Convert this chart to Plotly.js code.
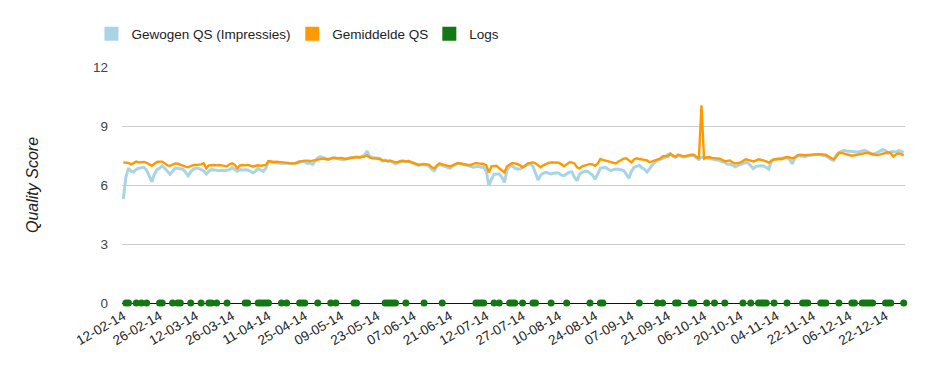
<!DOCTYPE html>
<html><head><meta charset="utf-8">
<script src="https://cdn.plot.ly/plotly-3.0.1.min.js"></script>
<style>html,body{margin:0;padding:0;background:#fff;} #chart{width:945px;height:374px;}</style>
</head><body><div id="chart"></div>
<script>
const categories = [
"12-02-14","13-02-14","14-02-14","15-02-14","16-02-14","17-02-14","18-02-14","19-02-14","20-02-14","21-02-14","22-02-14","23-02-14","24-02-14","25-02-14",
"26-02-14","27-02-14","28-02-14","01-03-14","02-03-14","03-03-14","04-03-14","05-03-14","06-03-14","07-03-14","08-03-14","09-03-14","10-03-14","11-03-14",
"12-03-14","13-03-14","14-03-14","15-03-14","16-03-14","17-03-14","18-03-14","19-03-14","20-03-14","21-03-14","22-03-14","23-03-14","24-03-14","25-03-14",
"26-03-14","27-03-14","28-03-14","30-03-14","31-03-14","01-04-14","02-04-14","03-04-14","04-04-14","06-04-14","07-04-14","08-04-14","09-04-14","10-04-14",
"11-04-14","12-04-14","13-04-14","14-04-14","15-04-14","16-04-14","17-04-14","18-04-14","19-04-14","20-04-14","21-04-14","22-04-14","23-04-14","24-04-14",
"25-04-14","26-04-14","27-04-14","28-04-14","29-04-14","30-04-14","01-05-14","02-05-14","03-05-14","04-05-14","05-05-14","06-05-14","07-05-14","08-05-14",
"09-05-14","10-05-14","11-05-14","12-05-14","13-05-14","14-05-14","15-05-14","16-05-14","17-05-14","18-05-14","19-05-14","20-05-14","21-05-14","22-05-14",
"23-05-14","24-05-14","25-05-14","26-05-14","27-05-14","28-05-14","29-05-14","30-05-14","31-05-14","02-06-14","03-06-14","04-06-14","05-06-14","06-06-14",
"07-06-14","08-06-14","09-06-14","10-06-14","11-06-14","12-06-14","13-06-14","14-06-14","15-06-14","16-06-14","17-06-14","18-06-14","19-06-14","20-06-14",
"21-06-14","23-06-14","25-06-14","27-06-14","29-06-14","01-07-14","02-07-14","04-07-14","05-07-14","06-07-14","07-07-14","08-07-14","10-07-14","11-07-14",
"12-07-14","13-07-14","14-07-14","15-07-14","16-07-14","17-07-14","18-07-14","19-07-14","21-07-14","22-07-14","23-07-14","24-07-14","25-07-14","26-07-14",
"27-07-14","28-07-14","29-07-14","30-07-14","31-07-14","01-08-14","02-08-14","03-08-14","04-08-14","05-08-14","06-08-14","07-08-14","08-08-14","09-08-14",
"10-08-14","11-08-14","12-08-14","13-08-14","14-08-14","15-08-14","16-08-14","17-08-14","18-08-14","19-08-14","20-08-14","21-08-14","22-08-14","23-08-14",
"24-08-14","25-08-14","26-08-14","27-08-14","28-08-14","29-08-14","30-08-14","31-08-14","01-09-14","02-09-14","03-09-14","04-09-14","05-09-14","06-09-14",
"07-09-14","08-09-14","09-09-14","10-09-14","11-09-14","12-09-14","13-09-14","14-09-14","15-09-14","16-09-14","17-09-14","18-09-14","19-09-14","20-09-14",
"21-09-14","22-09-14","23-09-14","24-09-14","25-09-14","26-09-14","27-09-14","29-09-14","30-09-14","01-10-14","02-10-14","03-10-14","04-10-14","05-10-14",
"06-10-14","07-10-14","08-10-14","09-10-14","10-10-14","11-10-14","12-10-14","13-10-14","14-10-14","15-10-14","16-10-14","17-10-14","18-10-14","19-10-14",
"20-10-14","21-10-14","22-10-14","23-10-14","24-10-14","25-10-14","27-10-14","28-10-14","29-10-14","30-10-14","31-10-14","01-11-14","02-11-14","03-11-14",
"04-11-14","05-11-14","06-11-14","07-11-14","10-11-14","11-11-14","12-11-14","13-11-14","14-11-14","17-11-14","18-11-14","19-11-14","20-11-14","21-11-14",
"22-11-14","23-11-14","24-11-14","25-11-14","26-11-14","27-11-14","28-11-14","29-11-14","30-11-14","01-12-14","02-12-14","03-12-14","04-12-14","05-12-14",
"06-12-14","07-12-14","08-12-14","09-12-14","10-12-14","11-12-14","12-12-14","15-12-14","16-12-14","17-12-14","18-12-14","19-12-14","20-12-14","21-12-14",
"22-12-14","23-12-14","24-12-14","26-12-14","27-12-14","28-12-14","29-12-14","30-12-14"
];

const weightedQS = [
5.29,6.40,6.85,6.70,6.66,6.80,6.85,6.88,6.90,6.75,
6.45,6.17,6.55,6.78,6.85,6.98,6.85,6.70,6.55,6.70,
6.85,6.85,6.82,6.80,6.65,6.47,6.68,6.80,6.85,6.85,
6.78,6.72,6.56,6.70,6.78,6.78,6.75,6.73,6.75,6.73,
6.75,6.78,6.88,6.80,6.70,6.78,6.76,6.78,6.76,6.70,
6.62,6.70,6.85,6.75,6.70,6.85,7.19,7.17,7.15,7.15,
7.12,7.10,7.12,7.10,7.08,7.08,7.10,7.15,7.19,7.20,
7.17,7.10,7.12,7.05,7.25,7.38,7.44,7.40,7.34,7.30,
7.35,7.38,7.36,7.34,7.30,7.28,7.32,7.38,7.40,7.40,
7.42,7.40,7.44,7.50,7.73,7.45,7.40,7.38,7.38,7.35,
7.22,7.26,7.20,7.22,7.15,7.07,7.12,7.20,7.22,7.18,
7.20,7.15,7.10,7.05,7.00,7.05,7.05,7.02,6.95,6.80,
6.73,6.95,7.05,7.00,6.95,6.88,6.85,6.95,7.02,7.10,
7.08,7.05,7.02,7.00,6.95,6.90,6.92,6.95,6.90,6.92,
6.70,5.97,6.30,6.55,6.56,6.56,6.40,6.13,6.75,6.95,
6.98,6.85,6.81,6.81,6.90,6.98,7.05,7.07,6.95,6.60,
6.25,6.50,6.60,6.64,6.60,6.56,6.60,6.62,6.60,6.50,
6.47,6.56,6.65,6.67,6.40,6.22,6.56,6.64,6.70,6.70,
6.60,6.50,6.28,6.60,6.85,6.88,6.90,6.80,6.73,6.78,
6.81,6.80,6.75,6.73,6.55,6.34,6.70,6.90,6.95,7.00,
6.88,6.80,6.66,6.85,7.00,7.15,7.25,7.30,7.34,7.40,
7.55,7.60,7.45,7.42,7.50,7.45,7.42,7.45,7.48,7.50,
7.50,7.40,7.30,7.42,7.40,7.35,7.36,7.34,7.32,7.30,
7.25,7.18,7.15,7.05,7.05,7.00,6.92,6.98,7.03,7.10,
7.14,7.12,7.00,6.83,6.95,6.97,6.98,6.97,6.90,6.80,
7.25,7.30,7.32,7.35,7.36,7.38,7.40,7.30,7.08,7.35,
7.50,7.48,7.46,7.45,7.48,7.50,7.52,7.54,7.56,7.53,
7.50,7.48,7.40,7.30,7.25,7.50,7.64,7.70,7.76,7.73,
7.71,7.70,7.69,7.68,7.70,7.74,7.76,7.70,7.62,7.56,
7.60,7.68,7.72,7.80,7.75,7.62,7.68,7.70,7.68,7.75,
7.72,7.65
];

const averageQS = [
7.15,7.15,7.12,7.05,7.10,7.19,7.15,7.15,7.17,7.12,
7.05,6.98,7.08,7.17,7.19,7.19,7.10,7.00,6.98,7.02,
7.10,7.08,7.02,6.98,6.93,6.90,6.98,7.02,7.02,7.02,
7.05,7.10,6.85,7.00,7.02,7.02,7.00,7.02,7.00,6.98,
6.95,7.05,7.10,7.02,6.85,7.00,7.02,7.00,7.02,6.98,
6.93,6.98,7.00,6.98,7.00,7.02,7.22,7.20,7.17,7.19,
7.17,7.15,7.15,7.12,7.10,7.10,7.10,7.12,7.19,7.22,
7.24,7.24,7.22,7.24,7.26,7.30,7.32,7.34,7.32,7.30,
7.34,7.38,7.38,7.36,7.38,7.34,7.32,7.36,7.38,7.40,
7.42,7.40,7.42,7.44,7.50,7.40,7.36,7.36,7.34,7.32,
7.24,7.24,7.22,7.24,7.20,7.15,7.17,7.22,7.22,7.20,
7.22,7.17,7.15,7.08,7.02,7.05,7.07,7.05,7.02,6.90,
6.85,7.00,7.10,7.05,7.02,6.98,6.95,7.00,7.05,7.12,
7.10,7.07,7.03,7.02,7.02,7.08,7.12,7.10,7.10,7.07,
7.00,6.64,6.95,6.98,6.98,6.85,6.72,6.64,6.95,7.05,
7.12,7.10,7.07,7.00,6.90,6.98,7.10,7.12,7.15,7.10,
7.00,6.90,7.00,7.07,7.12,7.15,7.15,7.15,7.13,7.05,
6.95,7.05,7.15,7.15,7.10,6.90,6.85,6.95,6.98,7.02,
7.07,7.05,6.98,7.10,7.32,7.28,7.24,7.20,7.15,7.12,
7.10,7.20,7.29,7.34,7.36,7.25,7.15,7.30,7.36,7.32,
7.31,7.28,7.25,7.16,7.20,7.25,7.30,7.34,7.45,7.48,
7.45,7.58,7.50,7.42,7.55,7.50,7.46,7.48,7.52,7.54,
7.54,7.45,7.34,10.05,7.34,7.40,7.42,7.38,7.36,7.36,
7.34,7.28,7.20,7.23,7.25,7.15,7.09,7.12,7.14,7.22,
7.31,7.28,7.25,7.20,7.24,7.31,7.28,7.25,7.20,7.14,
7.25,7.31,7.31,7.31,7.32,7.38,7.42,7.40,7.35,7.40,
7.50,7.54,7.52,7.51,7.53,7.54,7.56,7.58,7.59,7.57,
7.55,7.54,7.45,7.38,7.31,7.45,7.64,7.63,7.59,7.55,
7.50,7.49,7.51,7.55,7.58,7.59,7.62,7.64,7.60,7.56,
7.54,7.52,7.55,7.59,7.62,7.66,7.62,7.45,7.55,7.61,
7.57,7.51
];

const logDates = [
"13-02-14","14-02-14","17-02-14","19-02-14","21-02-14","26-02-14","27-02-14","03-03-14","05-03-14","06-03-14",
"10-03-14","14-03-14","17-03-14","18-03-14","20-03-14","24-03-14","01-04-14","02-04-14","07-04-14","08-04-14",
"09-04-14","10-04-14","11-04-14","16-04-14","18-04-14","23-04-14","24-04-14","25-04-14","30-04-14","05-05-14",
"07-05-14","14-05-14","15-05-14","26-05-14","27-05-14","28-05-14","29-05-14","30-05-14","04-06-14","11-06-14",
"18-06-14","07-07-14","08-07-14","10-07-14","11-07-14","15-07-14","17-07-14","22-07-14","23-07-14","24-07-14",
"27-07-14","31-07-14","01-08-14","07-08-14","13-08-14","22-08-14","26-08-14","27-08-14","10-09-14","17-09-14",
"19-09-14","24-09-14","25-09-14","01-10-14","02-10-14","07-10-14","10-10-14","14-10-14","21-10-14","24-10-14",
"28-10-14","29-10-14","30-10-14","31-10-14","03-11-14","10-11-14","18-11-14","19-11-14","20-11-14","25-11-14",
"26-11-14","27-11-14","02-12-14","07-12-14","08-12-14","11-12-14","12-12-14","15-12-14","16-12-14","17-12-14",
"22-12-14","23-12-14","24-12-14","30-12-14"
];
const logValue = 0;

const tickLabels = [
"12-02-14","26-02-14","12-03-14","26-03-14","11-04-14","25-04-14","09-05-14","23-05-14","07-06-14","21-06-14","12-07-14",
"27-07-14","10-08-14","24-08-14","07-09-14","21-09-14","06-10-14","20-10-14","04-11-14","22-11-14","06-12-14","22-12-14"
];

const seriesNames = ["Gewogen QS (Impressies)", "Gemiddelde QS", "Logs"];
const seriesColors = ["#a8d4e6", "#ff9900", "#127812"];
const yTicks = [0, 3, 6, 9, 12];

const FONT = "Arial, 'Liberation Sans', sans-serif";
const legendIds = ["legend", "legend2", "legend3"];
const legendX = [-0.039, 0.2175, 0.3925];

const traces = [
  {x: categories, y: weightedQS, type: "scatter", mode: "lines", name: seriesNames[0],
   line: {color: seriesColors[0], width: 3}, showlegend: false, hoverinfo: "x+y"},
  {x: categories, y: averageQS, type: "scatter", mode: "lines", name: seriesNames[1],
   line: {color: seriesColors[1], width: 2.4}, showlegend: false, hoverinfo: "x+y"},
  {x: logDates, y: logDates.map(() => logValue), type: "scatter", mode: "markers", name: seriesNames[2],
   marker: {color: seriesColors[2], size: 7}, cliponaxis: false, showlegend: false, hoverinfo: "x+y"}
];
// legend entries with square swatches, one legend box per entry
seriesNames.forEach((n, k) => {
  traces.push({x: [null], y: [null], type: "scatter", mode: "markers", name: n, legend: legendIds[k],
    marker: {color: seriesColors[k], size: 14, symbol: "square", line: {width: 0}},
    showlegend: true, hoverinfo: "skip"});
});

const layout = {
  width: 945, height: 374,
  margin: {l: 122, r: 40, t: 67, b: 71, pad: 0},
  paper_bgcolor: "#ffffff", plot_bgcolor: "#ffffff",
  font: {family: FONT, size: 13.5, color: "#222222"},
  showlegend: true,
  xaxis: {
    type: "category", categoryorder: "array", categoryarray: categories,
    range: [-0.5, categories.length - 0.5],
    tickmode: "array", tickvals: tickLabels, ticktext: tickLabels,
    tickangle: -30, showgrid: false, zeroline: false, showline: false, ticks: "",
    ticklabelstandoff: 2,
    tickfont: {family: FONT, size: 13.5, color: "#222222"}, fixedrange: true
  },
  yaxis: {
    range: [0, 12], tickmode: "array", tickvals: yTicks, ticktext: yTicks.map(String),
    showgrid: true, gridcolor: "#cccccc", gridwidth: 1,
    zeroline: true, zerolinecolor: "#111111", zerolinewidth: 1,
    showline: false, ticks: "", ticklabelstandoff: 13,
    tickfont: {family: FONT, size: 13.5, color: "#444444"},
    title: {text: "<i>Quality Score</i>", font: {family: FONT, size: 16, color: "#222222"}, standoff: 50},
    fixedrange: true
  },
  hovermode: "closest"
};
legendIds.forEach((id, k) => {
  layout[id] = {orientation: "h", x: legendX[k], xanchor: "left", y: 1.14, yanchor: "middle",
    font: {family: FONT, size: 13.5, color: "#222222"}, bgcolor: "rgba(0,0,0,0)", itemclick: false};
});

Plotly.newPlot("chart", traces, layout, {displayModeBar: false, staticPlot: true});
</script>
</body></html>
